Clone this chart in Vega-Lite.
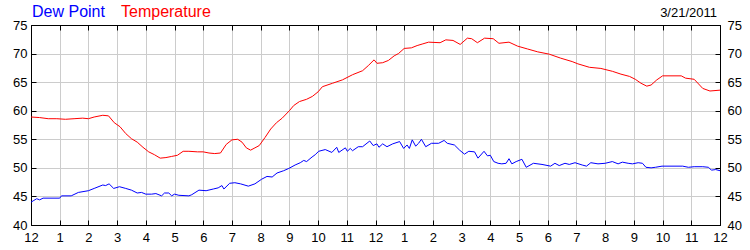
{
  "$schema": "https://vega.github.io/schema/vega-lite/v6.json",
  "width": 689,
  "height": 200,
  "autosize": "none",
  "padding": {"left": 31, "top": 25, "right": 30, "bottom": 25},
  "background": "white",
  "config": {
    "font": "Liberation Sans",
    "view": {"stroke": "black", "strokeWidth": 1},
    "axis": {
      "title": null,
      "domainColor": "black",
      "tickColor": "black",
      "labelColor": "black",
      "labelFontSize": 13,
      "labelFont": "Liberation Sans",
      "tickSize": -5,
      "gridColor": "#cccccc",
      "gridOpacity": 1,
      "labelFlush": false,
      "labelOverlap": false
    }
  },
  "title": {
    "text": "3/21/2011",
    "anchor": "end",
    "frame": "group",
    "fontSize": 13,
    "fontWeight": "normal",
    "font": "Liberation Sans",
    "color": "black",
    "offset": 6,
    "dy": 22,
    "dx": -3
  },
  "datasets": {
    "temperature": [
      {"hour": 0, "value": 58.9}, {"hour": 0.3, "value": 58.8}, {"hour": 0.6, "value": 58.6},
      {"hour": 0.9, "value": 58.6}, {"hour": 1.2, "value": 58.5}, {"hour": 1.5, "value": 58.6},
      {"hour": 1.8, "value": 58.7}, {"hour": 2.0, "value": 58.6}, {"hour": 2.2, "value": 58.9},
      {"hour": 2.5, "value": 59.2}, {"hour": 2.7, "value": 59.1}, {"hour": 2.9, "value": 57.9},
      {"hour": 3.1, "value": 57.2}, {"hour": 3.3, "value": 56.0}, {"hour": 3.5, "value": 55.1},
      {"hour": 3.7, "value": 54.5}, {"hour": 3.9, "value": 53.6}, {"hour": 4.1, "value": 52.8},
      {"hour": 4.3, "value": 52.3}, {"hour": 4.5, "value": 51.7}, {"hour": 4.7, "value": 51.8},
      {"hour": 4.9, "value": 52.0}, {"hour": 5.1, "value": 52.2}, {"hour": 5.3, "value": 52.9},
      {"hour": 5.5, "value": 52.9}, {"hour": 5.8, "value": 52.8}, {"hour": 6.0, "value": 52.8},
      {"hour": 6.2, "value": 52.6}, {"hour": 6.4, "value": 52.5}, {"hour": 6.6, "value": 52.6},
      {"hour": 6.8, "value": 54.1}, {"hour": 7.0, "value": 54.9}, {"hour": 7.2, "value": 55.0},
      {"hour": 7.35, "value": 54.5}, {"hour": 7.5, "value": 53.5}, {"hour": 7.65, "value": 53.1},
      {"hour": 7.8, "value": 53.5}, {"hour": 7.95, "value": 53.9}, {"hour": 8.15, "value": 55.3},
      {"hour": 8.35, "value": 56.8}, {"hour": 8.55, "value": 57.9}, {"hour": 8.75, "value": 58.7},
      {"hour": 9.0, "value": 60.0}, {"hour": 9.15, "value": 60.9}, {"hour": 9.35, "value": 61.6},
      {"hour": 9.6, "value": 62.0}, {"hour": 9.8, "value": 62.5}, {"hour": 10.0, "value": 63.3},
      {"hour": 10.15, "value": 64.2}, {"hour": 10.5, "value": 64.8}, {"hour": 10.85, "value": 65.4},
      {"hour": 11.2, "value": 66.3}, {"hour": 11.55, "value": 67.0}, {"hour": 11.75, "value": 67.9},
      {"hour": 11.95, "value": 68.9}, {"hour": 12.05, "value": 68.3}, {"hour": 12.25, "value": 68.4},
      {"hour": 12.45, "value": 68.8}, {"hour": 12.65, "value": 69.6}, {"hour": 12.8, "value": 70.0},
      {"hour": 13.0, "value": 70.9}, {"hour": 13.25, "value": 71.0}, {"hour": 13.45, "value": 71.4},
      {"hour": 13.65, "value": 71.7}, {"hour": 13.85, "value": 72.0}, {"hour": 14.25, "value": 71.9},
      {"hour": 14.45, "value": 72.4}, {"hour": 14.7, "value": 72.3}, {"hour": 14.95, "value": 71.6},
      {"hour": 15.2, "value": 72.7}, {"hour": 15.35, "value": 72.6}, {"hour": 15.55, "value": 71.9},
      {"hour": 15.8, "value": 72.7}, {"hour": 16.1, "value": 72.6}, {"hour": 16.3, "value": 71.8},
      {"hour": 16.65, "value": 72.0}, {"hour": 16.95, "value": 71.3}, {"hour": 17.3, "value": 70.8},
      {"hour": 17.65, "value": 70.3}, {"hour": 18.05, "value": 69.9}, {"hour": 18.45, "value": 69.2},
      {"hour": 18.85, "value": 68.6}, {"hour": 19.05, "value": 68.2}, {"hour": 19.45, "value": 67.6},
      {"hour": 19.85, "value": 67.4}, {"hour": 20.25, "value": 66.9}, {"hour": 20.55, "value": 66.4},
      {"hour": 20.85, "value": 66.0}, {"hour": 21.05, "value": 65.5}, {"hour": 21.25, "value": 64.8},
      {"hour": 21.45, "value": 64.3}, {"hour": 21.6, "value": 64.5}, {"hour": 21.8, "value": 65.4},
      {"hour": 22.0, "value": 66.1}, {"hour": 22.65, "value": 66.1}, {"hour": 22.8, "value": 65.7},
      {"hour": 23.1, "value": 65.5}, {"hour": 23.4, "value": 63.9}, {"hour": 23.65, "value": 63.45},
      {"hour": 24.0, "value": 63.6}
    ],
    "dewpoint": [
      {"hour": 0, "value": 44.0}, {"hour": 0.1, "value": 44.3}, {"hour": 0.2, "value": 44.6},
      {"hour": 0.3, "value": 44.4}, {"hour": 0.42, "value": 44.7}, {"hour": 1.0, "value": 44.7},
      {"hour": 1.06, "value": 45.1}, {"hour": 1.4, "value": 45.1}, {"hour": 1.65, "value": 45.7},
      {"hour": 2.0, "value": 46.0}, {"hour": 2.2, "value": 46.4}, {"hour": 2.5, "value": 47.0},
      {"hour": 2.6, "value": 46.9}, {"hour": 2.72, "value": 47.2}, {"hour": 2.88, "value": 46.4},
      {"hour": 3.08, "value": 46.7}, {"hour": 3.3, "value": 46.4}, {"hour": 3.5, "value": 46.1},
      {"hour": 3.7, "value": 45.6}, {"hour": 3.85, "value": 45.7}, {"hour": 4.0, "value": 45.4},
      {"hour": 4.2, "value": 45.4}, {"hour": 4.35, "value": 45.5}, {"hour": 4.55, "value": 45.1},
      {"hour": 4.65, "value": 45.6}, {"hour": 4.8, "value": 45.6}, {"hour": 4.9, "value": 45.1},
      {"hour": 5.0, "value": 45.4}, {"hour": 5.15, "value": 45.2}, {"hour": 5.5, "value": 45.1},
      {"hour": 5.6, "value": 45.3}, {"hour": 5.85, "value": 46.1}, {"hour": 6.1, "value": 46.0},
      {"hour": 6.35, "value": 46.3}, {"hour": 6.52, "value": 46.5}, {"hour": 6.65, "value": 46.9},
      {"hour": 6.72, "value": 46.3}, {"hour": 6.92, "value": 47.3}, {"hour": 7.1, "value": 47.4},
      {"hour": 7.3, "value": 47.2}, {"hour": 7.57, "value": 46.8}, {"hour": 7.8, "value": 47.2},
      {"hour": 8.03, "value": 48.0}, {"hour": 8.22, "value": 48.5}, {"hour": 8.4, "value": 48.4},
      {"hour": 8.57, "value": 49.1}, {"hour": 8.8, "value": 49.5}, {"hour": 8.98, "value": 49.9},
      {"hour": 9.2, "value": 50.5}, {"hour": 9.38, "value": 50.9}, {"hour": 9.5, "value": 51.3},
      {"hour": 9.6, "value": 51.1}, {"hour": 9.79, "value": 51.9}, {"hour": 9.9, "value": 52.3},
      {"hour": 10.02, "value": 52.9}, {"hour": 10.25, "value": 53.2}, {"hour": 10.48, "value": 52.7},
      {"hour": 10.65, "value": 53.6}, {"hour": 10.72, "value": 52.7}, {"hour": 10.95, "value": 53.5},
      {"hour": 11.02, "value": 52.9}, {"hour": 11.12, "value": 53.4}, {"hour": 11.2, "value": 53.0},
      {"hour": 11.4, "value": 53.7}, {"hour": 11.55, "value": 53.7}, {"hour": 11.8, "value": 54.7},
      {"hour": 11.92, "value": 53.9}, {"hour": 12.05, "value": 54.2}, {"hour": 12.12, "value": 53.6},
      {"hour": 12.25, "value": 54.2}, {"hour": 12.4, "value": 53.7}, {"hour": 12.6, "value": 54.2},
      {"hour": 12.84, "value": 54.6}, {"hour": 12.98, "value": 53.4}, {"hour": 13.1, "value": 54.0},
      {"hour": 13.18, "value": 53.4}, {"hour": 13.28, "value": 54.9}, {"hour": 13.4, "value": 53.8},
      {"hour": 13.5, "value": 54.3}, {"hour": 13.6, "value": 55.0}, {"hour": 13.75, "value": 53.7},
      {"hour": 13.95, "value": 54.3}, {"hour": 14.2, "value": 54.3}, {"hour": 14.39, "value": 54.8},
      {"hour": 14.5, "value": 54.3}, {"hour": 14.75, "value": 54.0}, {"hour": 14.93, "value": 53.1},
      {"hour": 15.1, "value": 52.4}, {"hour": 15.25, "value": 52.9}, {"hour": 15.45, "value": 52.8},
      {"hour": 15.57, "value": 51.7}, {"hour": 15.78, "value": 52.9}, {"hour": 15.9, "value": 52.1},
      {"hour": 16.0, "value": 52.2}, {"hour": 16.12, "value": 51.1}, {"hour": 16.27, "value": 50.8},
      {"hour": 16.4, "value": 50.7}, {"hour": 16.55, "value": 50.8}, {"hour": 16.65, "value": 51.6},
      {"hour": 16.75, "value": 50.7}, {"hour": 16.9, "value": 51.1}, {"hour": 17.1, "value": 51.5},
      {"hour": 17.25, "value": 50.1}, {"hour": 17.5, "value": 50.8}, {"hour": 17.8, "value": 50.6},
      {"hour": 18.1, "value": 50.3}, {"hour": 18.25, "value": 50.8}, {"hour": 18.4, "value": 50.4},
      {"hour": 18.6, "value": 50.8}, {"hour": 18.75, "value": 50.6}, {"hour": 18.95, "value": 50.9},
      {"hour": 19.2, "value": 50.5}, {"hour": 19.35, "value": 50.3}, {"hour": 19.5, "value": 50.9},
      {"hour": 19.75, "value": 50.7}, {"hour": 20.0, "value": 50.8}, {"hour": 20.25, "value": 51.1},
      {"hour": 20.45, "value": 50.7}, {"hour": 20.6, "value": 51.0}, {"hour": 20.8, "value": 50.8},
      {"hour": 20.95, "value": 50.7}, {"hour": 21.15, "value": 50.9}, {"hour": 21.3, "value": 50.8},
      {"hour": 21.42, "value": 50.1}, {"hour": 21.6, "value": 50.0}, {"hour": 21.75, "value": 50.1},
      {"hour": 21.98, "value": 50.3}, {"hour": 22.7, "value": 50.3}, {"hour": 22.9, "value": 50.1},
      {"hour": 23.1, "value": 50.2}, {"hour": 23.4, "value": 50.2}, {"hour": 23.6, "value": 50.1},
      {"hour": 23.7, "value": 49.6}, {"hour": 23.85, "value": 49.7}, {"hour": 24.0, "value": 49.5}
    ]
  },
  "layer": [
    {
      "data": {"name": "temperature"},
      "mark": {"type": "line", "strokeWidth": 1},
      "encoding": {
        "x": {
          "field": "hour", "type": "quantitative",
          "scale": {"domain": [0, 24], "nice": false, "zero": false},
          "axis": {
            "orient": "bottom",
            "values": [0,1,2,3,4,5,6,7,8,9,10,11,12,13,14,15,16,17,18,19,20,21,22,23,24],
            "labelExpr": "datum.value % 12 == 0 ? '12' : '' + (datum.value % 12)",
            "grid": true,
            "labelPadding": 11
          }
        },
        "y": {
          "field": "value", "type": "quantitative",
          "scale": {"domain": [40, 75], "nice": false, "zero": false},
          "axis": {
            "orient": "left",
            "values": [40,45,50,55,60,65,70,75],
            "grid": true,
            "labelPadding": 9
          }
        },
        "color": {
          "datum": "Temperature", "type": "nominal",
          "scale": {"domain": ["Dew Point", "Temperature"], "range": ["#0000ff", "#ff0000"]},
          "legend": {
            "title": null,
            "orient": "none",
            "legendX": -15,
            "legendY": -21,
            "direction": "horizontal",
            "symbolSize": 0,
            "symbolOpacity": 0,
            "symbolStrokeWidth": 0,
            "labelOffset": 0,
            "labelFontSize": 16,
            "labelFont": "Liberation Sans",
            "columnPadding": 0,
            "padding": 0,
            "labelLimit": 0,
            "encode": {"labels": {"update": {"fill": {"scale": "color", "field": "value"}}}}
          }
        }
      }
    },
    {
      "data": {"name": "dewpoint"},
      "mark": {"type": "line", "strokeWidth": 1},
      "encoding": {
        "x": {
          "field": "hour", "type": "quantitative",
          "axis": {
            "orient": "top",
            "values": [0,1,2,3,4,5,6,7,8,9,10,11,12,13,14,15,16,17,18,19,20,21,22,23,24],
            "labels": false,
            "grid": false
          }
        },
        "y": {
          "field": "value", "type": "quantitative",
          "axis": {
            "orient": "right",
            "values": [40,45,50,55,60,65,70,75],
            "grid": false,
            "labelPadding": 12
          }
        },
        "color": {"datum": "Dew Point", "type": "nominal"}
      }
    }
  ],
  "resolve": {"axis": {"x": "independent", "y": "independent"}}
}
